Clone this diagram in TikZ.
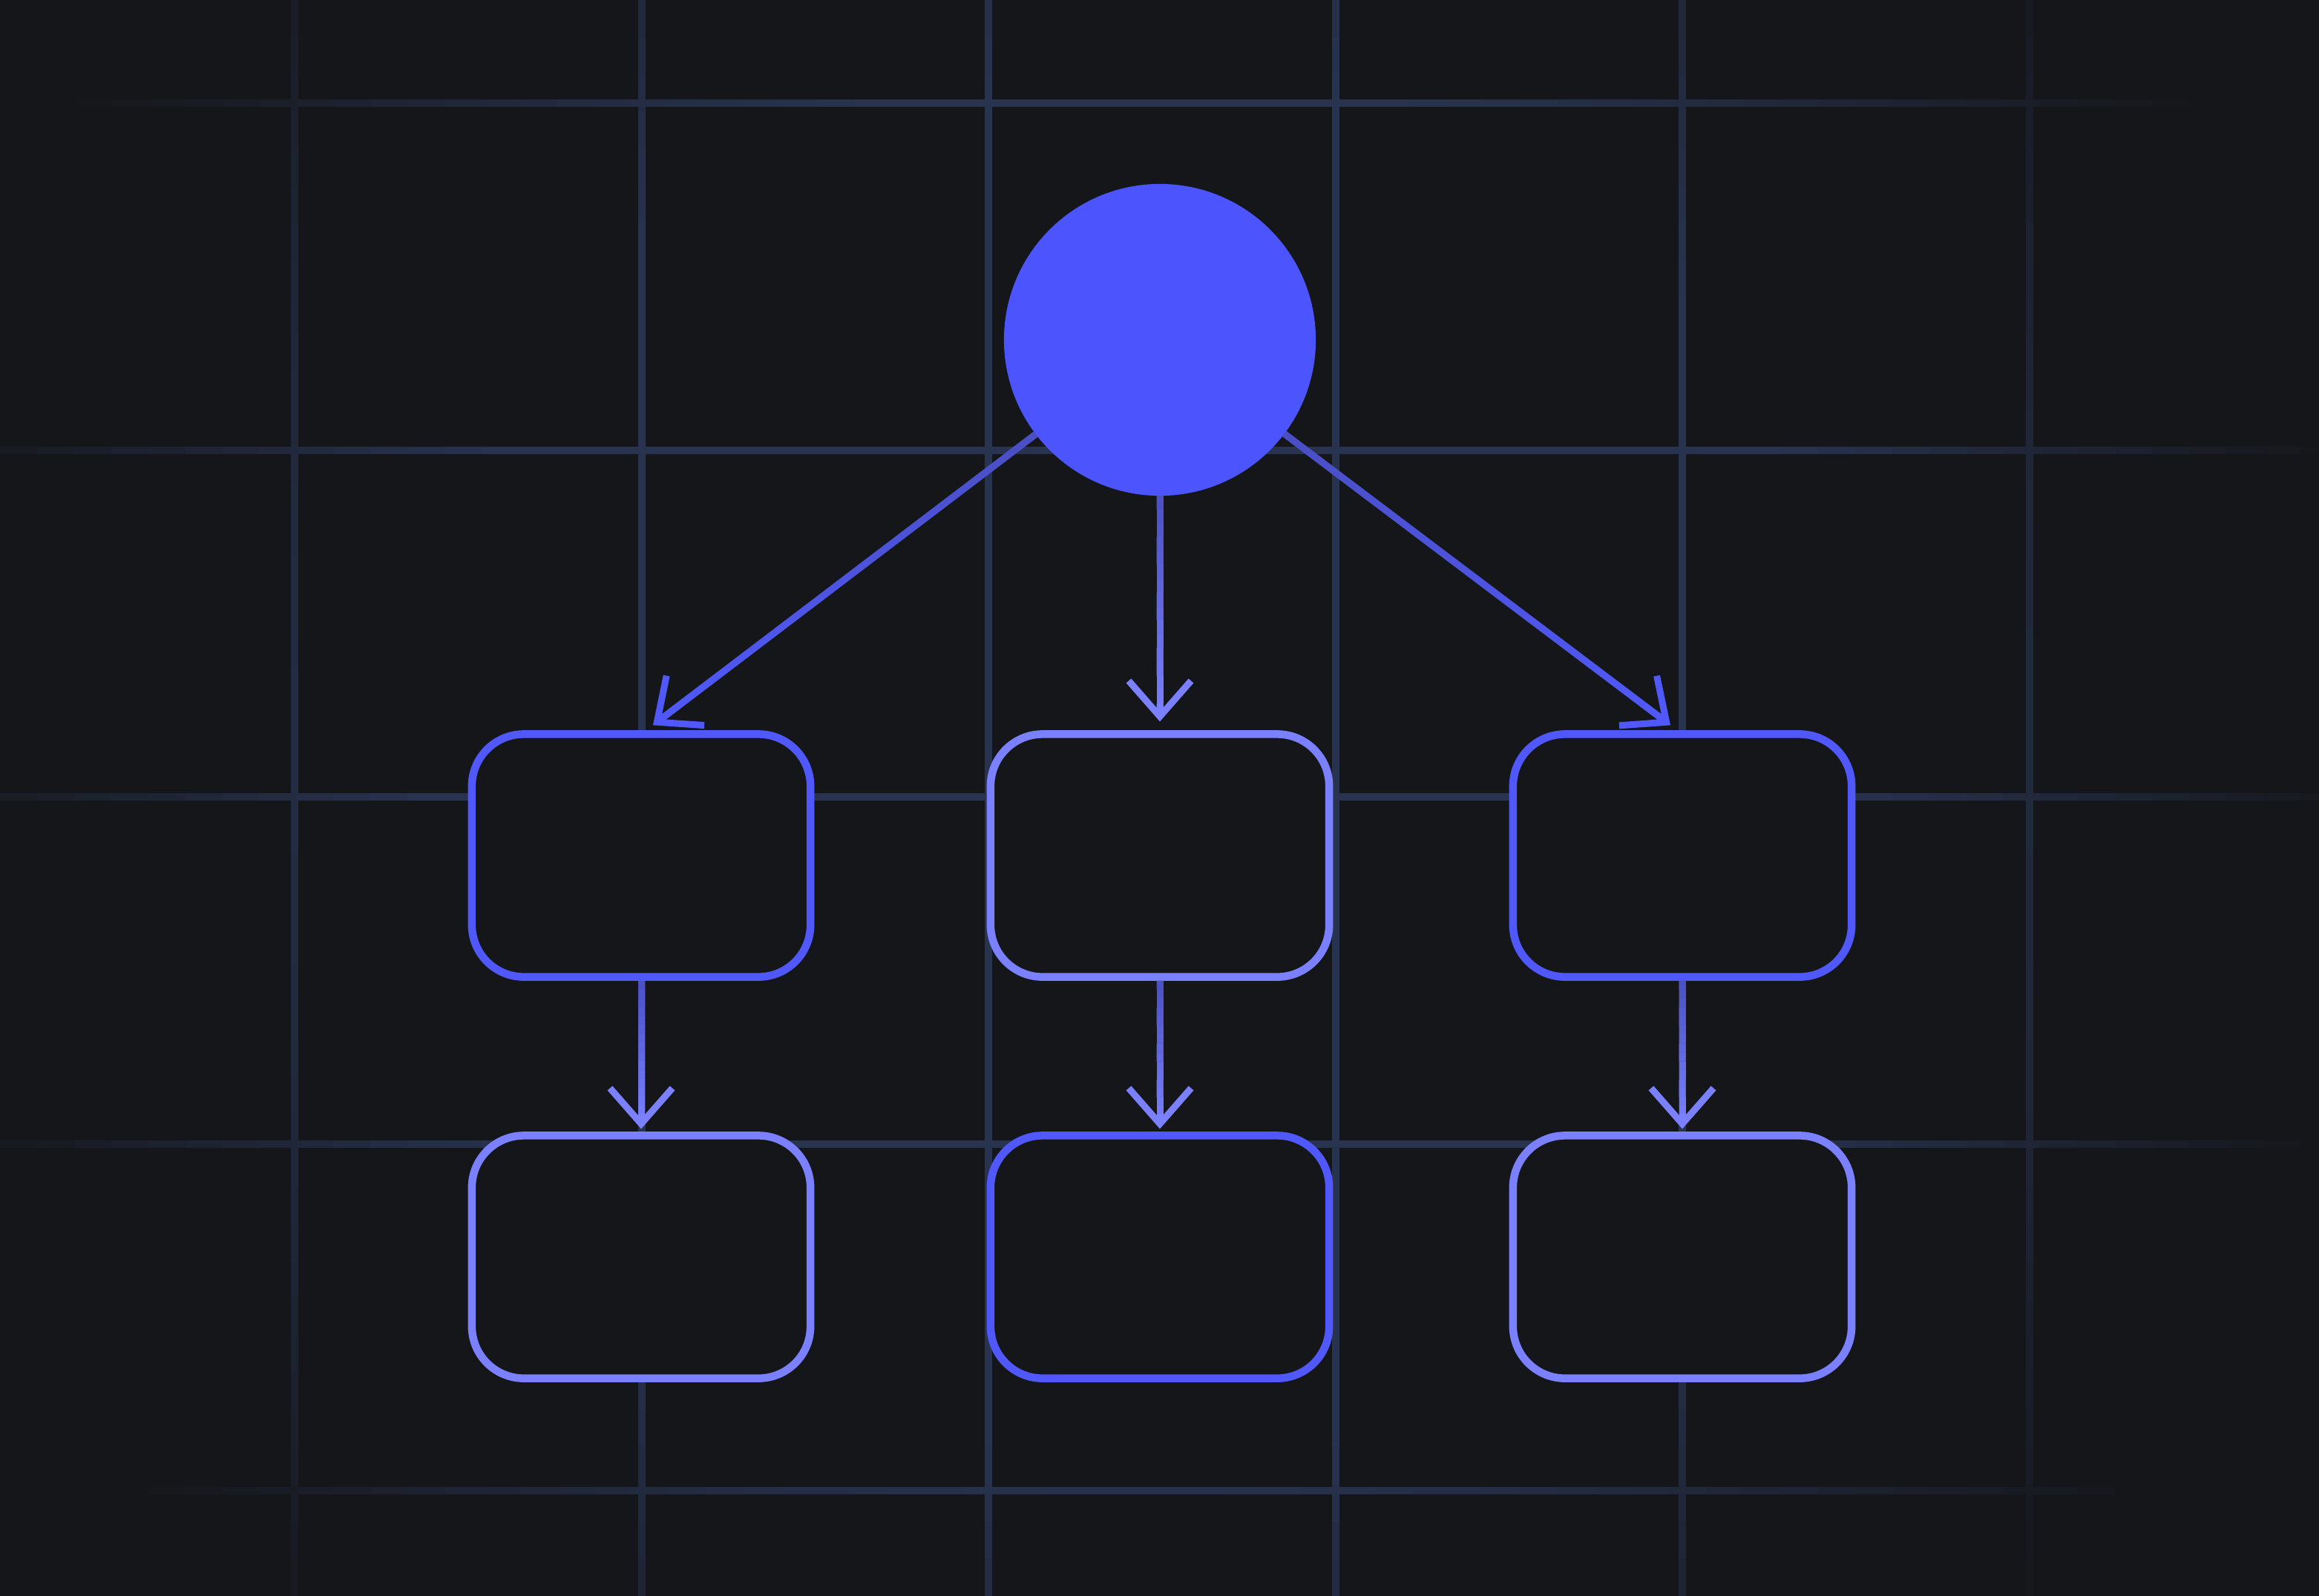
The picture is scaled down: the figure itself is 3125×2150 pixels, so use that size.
\documentclass[tikz,border=0pt]{standalone}
\usepackage{tikz}
\usetikzlibrary{calc}
\usetikzlibrary{arrows.meta}

\definecolor{bgcol}{HTML}{151619}
\definecolor{gridcol}{HTML}{283350}
\definecolor{rootblue}{HTML}{4C55FD}
\definecolor{edgeblue}{HTML}{5058FA}
\definecolor{edgelight}{HTML}{7B80FF}
\definecolor{linkdark}{HTML}{4A4FC4}

\newcommand{\gridpiece}[4]{ % #1,#2: start, #3,#4: end; dimmed by distance from the middle
  \pgfmathsetmacro{\griddist}{veclen((#1+#3)/2-1530,(#2+#4)/2-1020)}
  \pgfmathsetmacro{\gridmix}{100*min(1,max(0,(1680-\griddist)/730))}
  \draw[gridline, draw=gridcol!\gridmix!bgcol] (#1,#2) -- (#3,#4);
}

\newcommand{\gradlink}[4]{ % #1: start, #2: end, #3: start colour, #4: end colour
  \coordinate (linkend) at ($(#2)!0.6mm!(#1)$);
  \draw[linkline, color=#3] (#1) -- (linkend); % base line under the colour steps
  \foreach \seg in {0,...,15}
  {
    \pgfmathsetmacro{\segpos}{\seg/16}
    \pgfmathsetmacro{\segend}{(\seg+1)/16}
    \pgfmathsetmacro{\segmix}{100*(\seg+0.5)/16}
    \draw[linkline, color={#4!\segmix!#3}] ($(#1)!\segpos!(linkend)$) -- ($(#1)!\segend!(linkend)$);
  }
  \draw[linkline, linktip, color=#4] ($(#2)!2mm!(#1)$) -- (#2); % tip on top
}

\begin{document}
\begin{tikzpicture}[x=0.01cm, y=-0.01cm,
  gridline/.style={line width=1mm, line cap=butt},
  rootnode/.style={circle, fill=rootblue, minimum size=4.2cm, inner sep=0pt, outer sep=0pt},
  edgebox/.style={rectangle, rounded corners=7mm, fill=bgcol, line width=1.05mm, minimum width=4.56cm, minimum height=3.27cm, inner sep=0pt, outer sep=0pt},
  linkline/.style={line width=0.9mm, line cap=butt},
  linktip/.style={-{Straight Barb[length=4.8mm, width=8.4mm, line join=miter, line cap=butt]}}]

\useasboundingbox (0,0) rectangle (3125,2150);
\fill[bgcol] (-60,-60) rectangle (3185,2210);

% Background grid, fading out towards the edges
\foreach \gx in {397,864.5,1332,1799.5,2267,2734.5}
{
    \foreach \gy in {0,50,...,2100}
    {
        \gridpiece{\gx}{\gy}{\gx}{\gy+52}
    }
}
\foreach \gy in {139,606.5,1074,1541.5,2009}
{
    \foreach \gx in {0,50,...,3100}
    {
        \gridpiece{\gx}{\gy}{\gx+52}{\gy}
    }
}

% Root circle and boxes
\node[rootnode] (root) at (1563,458) {};
\node[edgebox, draw=edgeblue] (left) at (864,1153) {};
\node[edgebox, draw=edgelight] (mid) at (1563,1153) {};
\node[edgebox, draw=edgeblue] (right) at (2267,1153) {};
\node[edgebox, draw=edgelight] (leftsub) at (864,1694) {};
\node[edgebox, draw=edgeblue] (midsub) at (1563,1694) {};
\node[edgebox, draw=edgelight] (rightsub) at (2267,1694) {};

% Links from the root
\coordinate (s1) at ($(root.center)!2.1cm!(left.north)$);
\coordinate (e1) at ($(left.north)!2mm!(root.center)$);
\gradlink{s1}{e1}{linkdark}{edgeblue}
\coordinate (s2) at (root.south);
\coordinate (e2) at ($(mid.north)!1.7mm!(root.center)$);
\gradlink{s2}{e2}{linkdark}{edgelight}
\coordinate (s3) at ($(root.center)!2.1cm!(right.north)$);
\coordinate (e3) at ($(right.north)!2mm!(root.center)$);
\gradlink{s3}{e3}{linkdark}{edgeblue}

% Links to the lower boxes
\coordinate (s4) at ($(left.south)!0.5mm!(leftsub.north)$);
\coordinate (e4) at ($(leftsub.north)!0.9mm!(left.south)$);
\gradlink{s4}{e4}{linkdark}{edgelight}
\coordinate (s5) at ($(mid.south)!0.5mm!(midsub.north)$);
\coordinate (e5) at ($(midsub.north)!0.9mm!(mid.south)$);
\gradlink{s5}{e5}{linkdark}{edgelight}
\coordinate (s6) at ($(right.south)!0.5mm!(rightsub.north)$);
\coordinate (e6) at ($(rightsub.north)!0.9mm!(right.south)$);
\gradlink{s6}{e6}{linkdark}{edgelight}

\end{tikzpicture}
\end{document}
